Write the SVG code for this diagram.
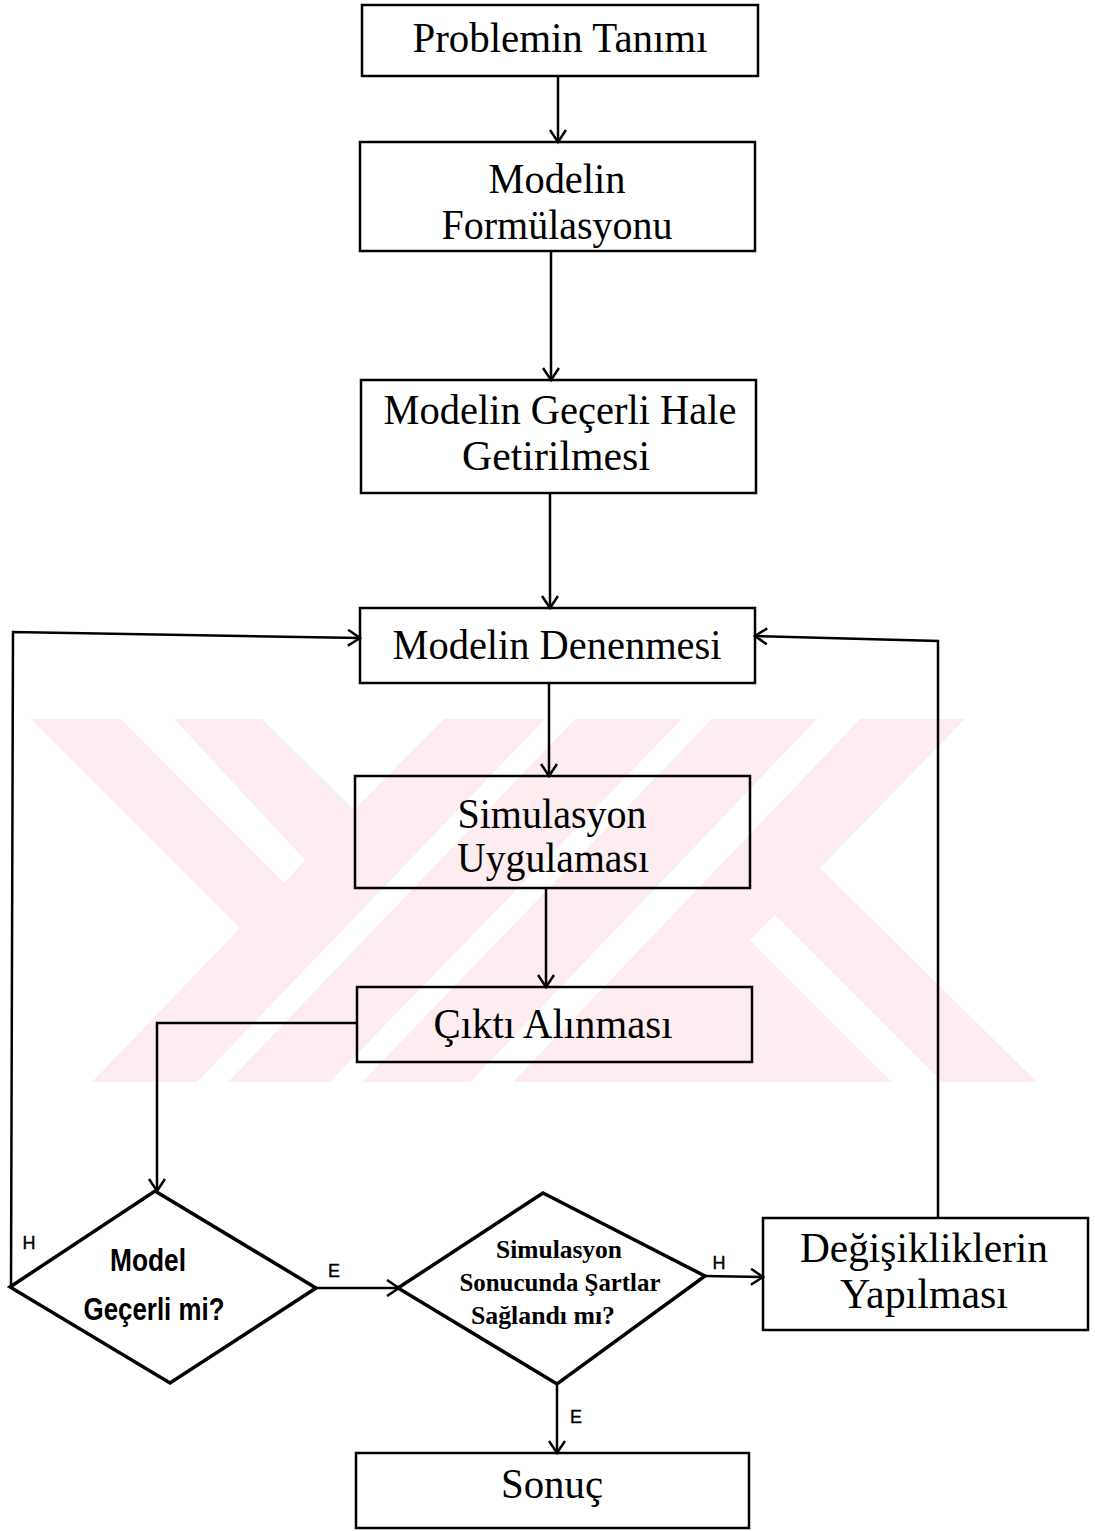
<svg xmlns="http://www.w3.org/2000/svg" width="1095" height="1531" viewBox="0 0 1095 1531">
  <style>
    .box { fill: none; stroke: #000; stroke-width: 2.5; }
    .dia { fill: none; stroke: #000; stroke-width: 3.5; stroke-linejoin: miter; }
    .con { fill: none; stroke: #000; stroke-width: 2.5; }
    .t { font-family: "Liberation Serif", "Times New Roman", serif; font-size: 42px; fill: #000; text-anchor: middle; }
    .td { font-family: "Liberation Serif", "Times New Roman", serif; font-size: 26px; font-weight: bold; fill: #000; text-anchor: middle; }
    .tm { font-family: "Liberation Sans Narrow", "Liberation Sans", Arial, sans-serif; font-size: 32px; font-weight: bold; fill: #000; text-anchor: middle; }
    .lbl { font-family: "Liberation Sans", Arial, sans-serif; font-size: 18px; fill: #000; text-anchor: middle; stroke: #000; stroke-width: 0.4; }
    .wm { fill: #fdedf0; }
    .wg { fill: #ffffff; }
  </style>
  <defs>
    <marker id="arr" viewBox="0 0 18 18" refX="14" refY="9" markerWidth="18" markerHeight="18" markerUnits="userSpaceOnUse" orient="auto">
      <path d="M2,1 L14,9 L2,17" fill="none" stroke="#000" stroke-width="2.5"/>
    </marker>
  </defs>
  <rect width="1095" height="1531" fill="#fff"/>

  <g id="watermark">
    <polygon class="wm" points="31,719 965,719 820,868 1037,1082 92,1082 240,928"/>
    <polygon class="wg" points="121,719 174,719 305,860 284,883"/>
    <polygon class="wg" points="262,719 444,719 354,810"/>
    <polygon class="wg" points="775,915 942,1082 892,1082 750,940"/>
    <polygon class="wg" points="545,719 575,719 228,1082 197,1082"/>
    <polygon class="wg" points="682,719 712,719 362,1082 330,1082"/>
    <polygon class="wg" points="817,719 860,719 513,1082 470,1082"/>
  </g>

  <g id="connectors">
    <line class="con" x1="558" y1="76" x2="558" y2="142" marker-end="url(#arr)"/>
    <line class="con" x1="551" y1="251" x2="551" y2="380" marker-end="url(#arr)"/>
    <line class="con" x1="550" y1="493" x2="550" y2="608" marker-end="url(#arr)"/>
    <line class="con" x1="549" y1="683" x2="549" y2="776" marker-end="url(#arr)"/>
    <line class="con" x1="546" y1="888" x2="546" y2="987" marker-end="url(#arr)"/>
    <polyline class="con" points="357,1023 157,1023 157,1191" marker-end="url(#arr)"/>
    <polyline class="con" points="11,1285 13,632 360,638" marker-end="url(#arr)"/>
    <polyline class="con" points="938,1218 938,641 755,636" marker-end="url(#arr)"/>
    <line class="con" x1="316" y1="1288" x2="399" y2="1288" marker-end="url(#arr)"/>
    <line class="con" x1="705" y1="1276" x2="763" y2="1277" marker-end="url(#arr)"/>
    <line class="con" x1="557" y1="1384" x2="557" y2="1453" marker-end="url(#arr)"/>
    <text class="lbl" x="29" y="1249">H</text>
    <text class="lbl" x="334" y="1277">E</text>
    <text class="lbl" x="719" y="1269">H</text>
    <text class="lbl" x="576" y="1423">E</text>
  </g>

  <g id="n1">
    <rect class="box" x="362" y="5" width="396" height="71"/>
    <text class="t" x="560" y="52" textLength="295" lengthAdjust="spacingAndGlyphs">Problemin Tanımı</text>
  </g>
  <g id="n2">
    <rect class="box" x="360" y="142" width="395" height="109"/>
    <text class="t" x="557" y="193" textLength="137" lengthAdjust="spacingAndGlyphs">Modelin</text>
    <text class="t" x="557" y="239" textLength="231" lengthAdjust="spacingAndGlyphs">Formülasyonu</text>
  </g>
  <g id="n3">
    <rect class="box" x="361" y="380" width="395" height="113"/>
    <text class="t" x="560" y="424" textLength="353" lengthAdjust="spacingAndGlyphs">Modelin Geçerli Hale</text>
    <text class="t" x="556" y="470" textLength="188" lengthAdjust="spacingAndGlyphs">Getirilmesi</text>
  </g>
  <g id="n4">
    <rect class="box" x="360" y="608" width="395" height="75"/>
    <text class="t" x="557" y="659" textLength="329" lengthAdjust="spacingAndGlyphs">Modelin Denenmesi</text>
  </g>
  <g id="n5">
    <rect class="box" x="355" y="776" width="395" height="112"/>
    <text class="t" x="552" y="828" textLength="189" lengthAdjust="spacingAndGlyphs">Simulasyon</text>
    <text class="t" x="553" y="872" textLength="192" lengthAdjust="spacingAndGlyphs">Uygulaması</text>
  </g>
  <g id="n6">
    <rect class="box" x="357" y="987" width="395" height="75"/>
    <text class="t" x="553" y="1038" textLength="239" lengthAdjust="spacingAndGlyphs">Çıktı Alınması</text>
  </g>
  <g id="n7">
    <polygon class="dia" points="155,1191 316,1288 170,1383 10,1287"/>
    <text class="tm" x="148" y="1271" textLength="76" lengthAdjust="spacingAndGlyphs">Model</text>
    <text class="tm" x="154" y="1320" textLength="141" lengthAdjust="spacingAndGlyphs">Geçerli mi?</text>
  </g>
  <g id="n8">
    <polygon class="dia" points="543,1193 705,1276 557,1384 398,1288"/>
    <text class="td" x="559" y="1258" textLength="126" lengthAdjust="spacingAndGlyphs">Simulasyon</text>
    <text class="td" x="560" y="1291" textLength="201" lengthAdjust="spacingAndGlyphs">Sonucunda Şartlar</text>
    <text class="td" x="543" y="1324" textLength="144" lengthAdjust="spacingAndGlyphs">Sağlandı mı?</text>
  </g>
  <g id="n9">
    <rect class="box" x="763" y="1218" width="325" height="112"/>
    <text class="t" x="924" y="1262" textLength="248" lengthAdjust="spacingAndGlyphs">Değişikliklerin</text>
    <text class="t" x="924" y="1308" textLength="168" lengthAdjust="spacingAndGlyphs">Yapılması</text>
  </g>
  <g id="n10">
    <rect class="box" x="356" y="1453" width="393" height="75"/>
    <text class="t" x="552" y="1498" textLength="102" lengthAdjust="spacingAndGlyphs">Sonuç</text>
  </g>
</svg>
